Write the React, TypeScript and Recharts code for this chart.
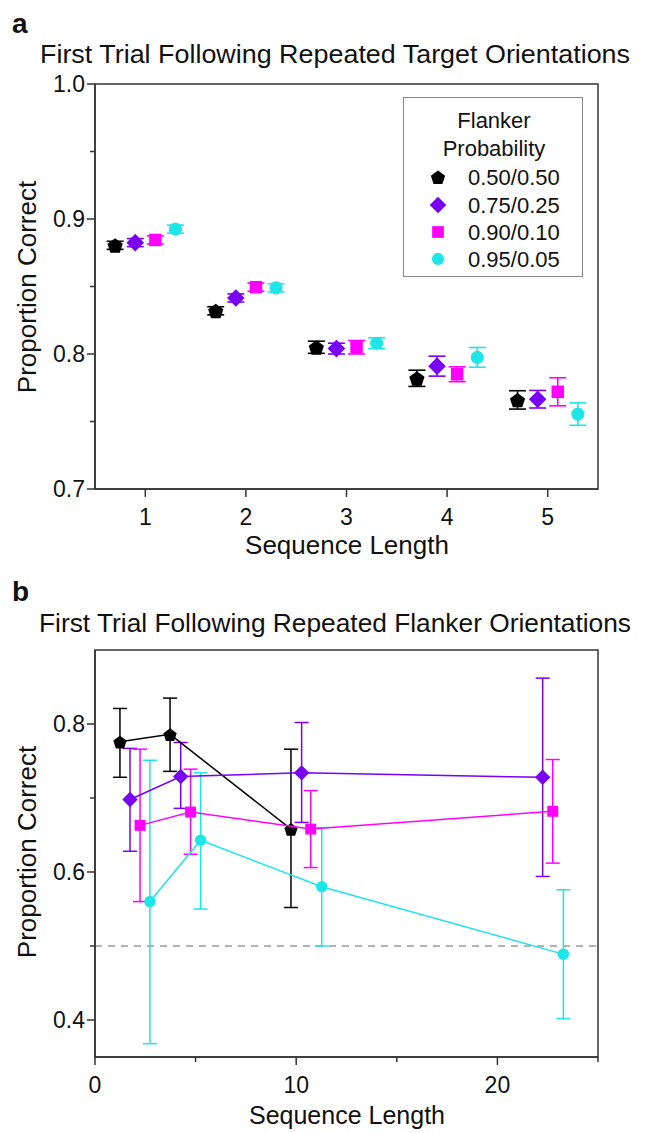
import React from "react";
import {
  ScatterChart,
  Scatter,
  XAxis,
  YAxis,
  ErrorBar,
  ReferenceLine,
  ReferenceArea,
} from "recharts";

// ── Panel a: first trial after repeated target orientations ──
const seqLengthA = [1, 2, 3, 4, 5];
const groupOffsetA = [-0.3, -0.1, 0.1, 0.3];

const a050 = [0.8805, 0.832, 0.805, 0.782, 0.766];
const a050Err = [0.003, 0.003, 0.0045, 0.006, 0.0068];
const a075 = [0.8825, 0.8415, 0.804, 0.791, 0.7665];
const a075Err = [0.003, 0.003, 0.004, 0.0074, 0.0065];
const a090 = [0.8845, 0.8495, 0.805, 0.785, 0.772];
const a090Err = [0.003, 0.003, 0.005, 0.0055, 0.0104];
const a095 = [0.8925, 0.849, 0.808, 0.7975, 0.7555];
const a095Err = [0.003, 0.003, 0.004, 0.0073, 0.0083];

const yTicksA = [0.7, 0.75, 0.8, 0.85, 0.9, 0.95, 1.0];
const yLabelsA = [0.7, 0.8, 0.9, 1.0];

// ── Panel b: first trial after repeated flanker orientations ──
const b050X = [1.24, 3.73, 9.74];
const b050 = [0.776, 0.786, 0.658];
const b050Lo = [0.728, 0.736, 0.552];
const b050Hi = [0.821, 0.835, 0.766];

const b075X = [1.74, 4.26, 10.27, 22.25];
const b075 = [0.698, 0.729, 0.734, 0.728];
const b075Lo = [0.628, 0.686, 0.667, 0.594];
const b075Hi = [0.767, 0.775, 0.802, 0.862];

const b090X = [2.24, 4.75, 10.72, 22.75];
const b090 = [0.663, 0.681, 0.658, 0.682];
const b090Lo = [0.56, 0.624, 0.606, 0.612];
const b090Hi = [0.766, 0.739, 0.71, 0.752];

const b095X = [2.73, 5.25, 11.27, 23.28];
const b095 = [0.56, 0.643, 0.58, 0.489];
const b095Lo = [0.368, 0.55, 0.5, 0.402];
const b095Hi = [0.751, 0.734, 0.66, 0.576];

const xTicksB = [0, 5, 10, 15, 20, 25];
const xLabelsB = [0, 10, 20];
const yTicksB = [0.4, 0.5, 0.6, 0.7, 0.8];
const yLabelsB = [0.4, 0.6, 0.8];

const probLabels = ["0.50/0.50", "0.75/0.25", "0.90/0.10", "0.95/0.05"];
const colors = ["#000000", "#7a00f5", "#ff00ff", "#1ee6e6"];
const shapes = ["pentagon", "diamond", "square", "circle"];

const FONT = '"Liberation Sans", Arial, Helvetica, sans-serif';
const AXIS = "#333";
const TICK_FS = 23;

const rowsA = (vals: number[], errs: number[], k: number) =>
  seqLengthA.map((s, i) => ({ x: s + groupOffsetA[k], y: vals[i], err: errs[i] }));

const rowsB = (xs: number[], vals: number[], lo: number[], hi: number[]) =>
  xs.map((x, i) => ({ x, y: vals[i], err: [vals[i] - lo[i], hi[i] - vals[i]] }));

const seriesA = [
  rowsA(a050, a050Err, 0),
  rowsA(a075, a075Err, 1),
  rowsA(a090, a090Err, 2),
  rowsA(a095, a095Err, 3),
];
const seriesB = [
  rowsB(b050X, b050, b050Lo, b050Hi),
  rowsB(b075X, b075, b075Lo, b075Hi),
  rowsB(b090X, b090, b090Lo, b090Hi),
  rowsB(b095X, b095, b095Lo, b095Hi),
];

function Marker({ kind, cx, cy, color, s }: any) {
  if (cx == null || cy == null) return null;
  if (kind === "pentagon") {
    const pts = [0, 1, 2, 3, 4]
      .map((i) => {
        const a = -Math.PI / 2 + (i * 2 * Math.PI) / 5;
        return `${cx + s * Math.cos(a)},${cy + s * Math.sin(a) + 1}`;
      })
      .join(" ");
    return <polygon points={pts} fill={color} />;
  }
  if (kind === "diamond") {
    const d = s * 1.1;
    return (
      <polygon
        points={`${cx},${cy - d} ${cx + d},${cy} ${cx},${cy + d} ${cx - d},${cy}`}
        fill={color}
      />
    );
  }
  if (kind === "square") {
    const h = s * 0.78;
    return <rect x={cx - h} y={cy - h} width={h * 2} height={h * 2} fill={color} />;
  }
  return <circle cx={cx} cy={cy} r={s * 0.82} fill={color} />;
}

// y tick with long (labelled) and short (minor) marks
const makeYTick = (labels: number[], fs: number) => (p: any) => {
  const v = p.payload.value;
  const ax = p.x + 12;
  const major = labels.some((l) => Math.abs(l - v) < 1e-6);
  return (
    <g>
      <line x1={ax} x2={ax - (major ? 8 : 5)} y1={p.y} y2={p.y} stroke={AXIS} strokeWidth={1.5} />
      {major && (
        <text x={ax - 10} y={p.y} dy="0.36em" textAnchor="end" fontSize={fs} fill="#111" fontFamily={FONT}>
          {v.toFixed(1)}
        </text>
      )}
    </g>
  );
};

const makeXTick = (labels: number[], fs: number) => (p: any) => {
  const v = p.payload.value;
  const ay = p.y - 12;
  const major = labels.some((l) => Math.abs(l - v) < 1e-6);
  return (
    <g>
      <line x1={p.x} x2={p.x} y1={ay} y2={ay + (major ? 8 : 5)} stroke={AXIS} strokeWidth={1.5} />
      {major && (
        <text x={p.x} y={ay + 14} dy="0.95em" textAnchor="middle" fontSize={fs} fill="#111" fontFamily={FONT}>
          {v}
        </text>
      )}
    </g>
  );
};

function Legend() {
  const rowY = [177, 205, 232, 259];
  return (
    <div
      style={{
        position: "absolute",
        left: 403,
        top: 97,
        width: 180,
        height: 180,
        border: "1.5px solid #888",
        background: "#fff",
        boxSizing: "border-box",
      }}
    >
      <svg width={180} height={180} style={{ position: "absolute", left: -1.5, top: -1.5 }}>
        <text x={91} y={31} textAnchor="middle" fontSize={22} fontFamily={FONT} fill="#111">
          Flanker
        </text>
        <text x={91} y={59} textAnchor="middle" fontSize={22} fontFamily={FONT} fill="#111">
          Probability
        </text>
        {probLabels.map((lab, i) => (
          <g key={lab}>
            <Marker kind={shapes[i]} cx={35} cy={rowY[i] - 97} color={colors[i]} s={7.5} />
            <text x={65} y={rowY[i] - 97} dy="0.36em" fontSize={22} fontFamily={FONT} fill="#111">
              {lab}
            </text>
          </g>
        ))}
      </svg>
    </div>
  );
}

export default function App() {
  return (
    <div
      style={{
        position: "absolute",
        left: 0,
        top: 0,
        width: 646,
        height: 1133,
        background: "#fff",
        overflow: "hidden",
        fontFamily: FONT,
      }}
    >
      {/* Panel a */}
      <div style={{ position: "absolute", left: 0, top: 0 }}>
        <ScatterChart width={646} height={570} margin={{ top: 84, right: 48, bottom: 41, left: 35 }}>
          <XAxis
            type="number"
            dataKey="x"
            domain={[0.5, 5.5]}
            ticks={seqLengthA}
            interval={0}
            tickLine={false}
            tickSize={8}
            tickMargin={4}
            height={40}
            axisLine={{ stroke: AXIS, strokeWidth: 1.5 }}
            tick={makeXTick(seqLengthA, TICK_FS)}
            allowDataOverflow
          />
          <YAxis
            type="number"
            dataKey="y"
            domain={[0.7, 1.0]}
            ticks={yTicksA}
            interval={0}
            tickLine={false}
            tickSize={8}
            tickMargin={4}
            width={60}
            axisLine={{ stroke: AXIS, strokeWidth: 1.5 }}
            tick={makeYTick(yLabelsA, TICK_FS)}
            allowDataOverflow
          />
          <ReferenceArea x1={0.5} x2={5.5} y1={0.7} y2={1.0} fill="none" stroke={AXIS} strokeWidth={1.5} />
          {seriesA.map((rows, k) => (
            <Scatter
              key={k}
              data={rows}
              fill={colors[k]}
              isAnimationActive={false}
              shape={(p: any) => <Marker kind={shapes[k]} cx={p.cx} cy={p.cy} color={colors[k]} s={8} />}
            >
              <ErrorBar dataKey="err" direction="y" width={8.5} stroke={colors[k]} strokeWidth={1.6} />
            </Scatter>
          ))}
        </ScatterChart>
      </div>
      <Legend />

      {/* Panel b */}
      <div style={{ position: "absolute", left: 0, top: 0 }}>
        <ScatterChart width={646} height={1133} margin={{ top: 650, right: 48, bottom: 36, left: 35 }}>
          <XAxis
            type="number"
            dataKey="x"
            domain={[0, 25]}
            ticks={xTicksB}
            interval={0}
            tickLine={false}
            tickSize={8}
            tickMargin={4}
            height={40}
            axisLine={{ stroke: AXIS, strokeWidth: 1.5 }}
            tick={makeXTick(xLabelsB, TICK_FS)}
            allowDataOverflow
          />
          <YAxis
            type="number"
            dataKey="y"
            domain={[0.35, 0.9]}
            ticks={yTicksB}
            interval={0}
            tickLine={false}
            tickSize={8}
            tickMargin={4}
            width={60}
            axisLine={{ stroke: AXIS, strokeWidth: 1.5 }}
            tick={makeYTick(yLabelsB, TICK_FS)}
            allowDataOverflow
          />
          <ReferenceArea x1={0} x2={25} y1={0.35} y2={0.9} fill="none" stroke={AXIS} strokeWidth={1.5} />
          <ReferenceLine y={0.5} stroke="#999" strokeWidth={1.5} strokeDasharray="7 6" />
          {seriesB.map((rows, k) => (
            <Scatter
              key={k}
              data={rows}
              fill={colors[k]}
              line={{ stroke: colors[k], strokeWidth: 1.5 }}
              isAnimationActive={false}
              shape={(p: any) => <Marker kind={shapes[k]} cx={p.cx} cy={p.cy} color={colors[k]} s={7} />}
            >
              <ErrorBar dataKey="err" direction="y" width={7} stroke={colors[k]} strokeWidth={1.5} />
            </Scatter>
          ))}
        </ScatterChart>
      </div>

      {/* Titles and axis labels */}
      <svg width={646} height={1133} style={{ position: "absolute", left: 0, top: 0, pointerEvents: "none" }}>
        <text x={12} y={33} fontSize={28} fontWeight="bold" fontFamily={FONT} fill="#111">
          a
        </text>
        <text
          x={335}
          y={63}
          textAnchor="middle"
          fontSize={26}
          textLength={590}
          lengthAdjust="spacingAndGlyphs"
          fontFamily={FONT}
          fill="#111"
        >
          First Trial Following Repeated Target Orientations
        </text>
        <text
          transform="translate(36,287) rotate(-90)"
          textAnchor="middle"
          fontSize={26}
          fontFamily={FONT}
          fill="#111"
        >
          Proportion Correct
        </text>
        <text x={347} y={554} textAnchor="middle" fontSize={26} fontFamily={FONT} fill="#111">
          Sequence Length
        </text>

        <text x={12} y={601} fontSize={28} fontWeight="bold" fontFamily={FONT} fill="#111">
          b
        </text>
        <text
          x={335}
          y={632}
          textAnchor="middle"
          fontSize={26}
          textLength={592}
          lengthAdjust="spacingAndGlyphs"
          fontFamily={FONT}
          fill="#111"
        >
          First Trial Following Repeated Flanker Orientations
        </text>
        <text
          transform="translate(36,852) rotate(-90)"
          textAnchor="middle"
          fontSize={26}
          fontFamily={FONT}
          fill="#111"
        >
          Proportion Correct
        </text>
        <text x={347} y={1124} textAnchor="middle" fontSize={25} fontFamily={FONT} fill="#111">
          Sequence Length
        </text>
      </svg>
    </div>
  );
}
